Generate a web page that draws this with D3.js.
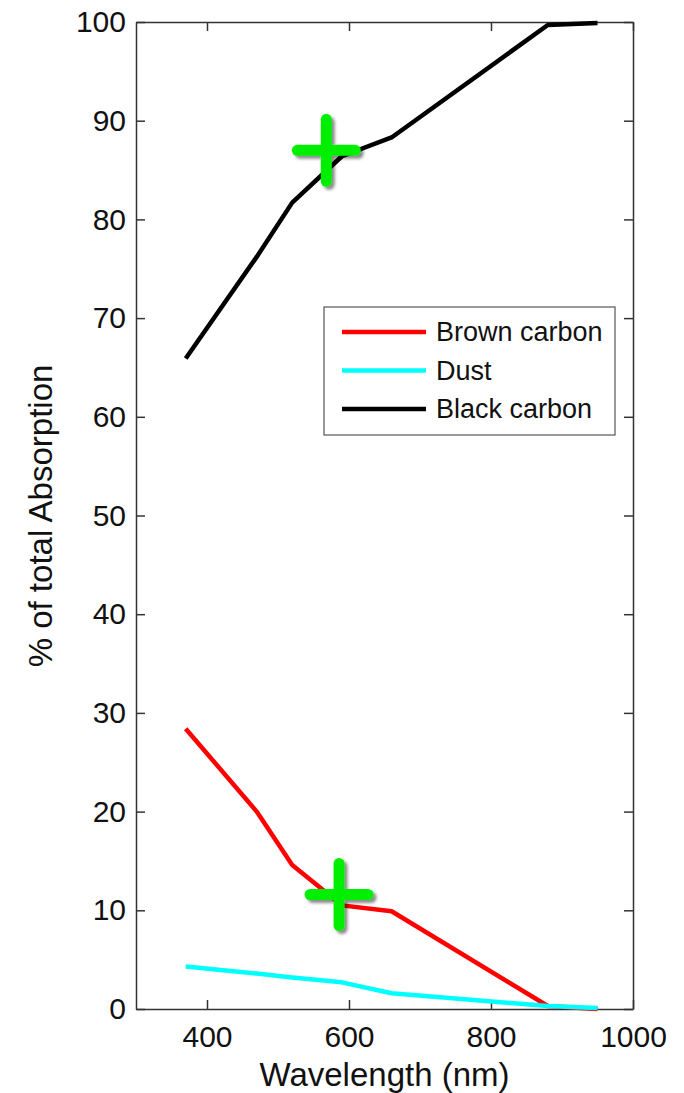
<!DOCTYPE html>
<meta charset="utf-8">
<style>
  body { margin: 0; background: #fff; }
  svg { display: block; }
  text { font-family: "Liberation Sans", Arial, sans-serif; fill: #111; }
  .axis path, .axis line { stroke: #333; stroke-width: 1.5px; }
</style>
<body>
<script src="https://d3js.org/d3.v7.min.js"></script>
<script>
// aethalometer wavelengths (nm)
var wavelengths = [370, 470, 520, 590, 660, 880, 950];

// % of total absorption for each species
var brownCarbon = [28.4, 20.0, 14.6, 10.5, 9.9, 0.3, 0.0];
var dust        = [4.3, 3.6, 3.2, 2.7, 1.6, 0.3, 0.1];
var blackCarbon = [65.9, 76.2, 81.7, 86.4, 88.3, 99.7, 99.9];

var seriesNames  = ["Brown carbon", "Dust", "Black carbon"];
var seriesColors = ["#ff0000", "#00ffff", "#000000"];

// green "+" annotations
var markWl  = [568, 586];
var markVal = [87.0, 11.6];

var xTicks = [400, 600, 800, 1000];
var yTicks = [0, 10, 20, 30, 40, 50, 60, 70, 80, 90, 100];

var margin = {top: 22, right: 51, bottom: 84, left: 136},
    width  = 684 - margin.left - margin.right,
    height = 1093 - margin.top - margin.bottom;

var svg = d3.select("body").append("svg")
  .attr("width", 684)
  .attr("height", 1093);

var defs = svg.append("defs");
var f = defs.append("filter").attr("id", "shadow")
  .attr("x", "-30%").attr("y", "-30%").attr("width", "160%").attr("height", "160%");
f.append("feDropShadow")
  .attr("dx", 3).attr("dy", 3).attr("stdDeviation", 1.6)
  .attr("flood-color", "#000").attr("flood-opacity", 0.45);

var chart = svg.append("g")
  .attr("transform", "translate(" + margin.left + "," + margin.top + ")");

var x = d3.scaleLinear().domain([300, 1000]).range([0, width]);
var y = d3.scaleLinear().domain([0, 100]).range([height, 0]);

// axes: ticks pointing inward, MATLAB style box
chart.append("g").attr("class", "axis")
  .attr("transform", "translate(0," + height + ")")
  .call(d3.axisBottom(x).tickValues(xTicks).tickFormat(d3.format("d"))
    .tickSize(-9).tickSizeOuter(0).tickPadding(17))
  .call(function(g){ g.selectAll("text").style("font-size", "30px"); });

chart.append("g").attr("class", "axis")
  .call(d3.axisTop(x).tickValues(xTicks).tickSize(-9).tickSizeOuter(0).tickFormat(""));

chart.append("g").attr("class", "axis")
  .call(d3.axisLeft(y).tickValues(yTicks).tickSize(-9).tickSizeOuter(0).tickPadding(10))
  .call(function(g){ g.selectAll("text").style("font-size", "30px"); });

chart.append("g").attr("class", "axis")
  .attr("transform", "translate(" + width + ",0)")
  .call(d3.axisRight(y).tickValues(yTicks).tickSize(-9).tickSizeOuter(0).tickFormat(""));

chart.selectAll(".axis text").attr("fill", "#111");

// lines
var series = [brownCarbon, dust, blackCarbon];
var line = d3.line()
  .x(function(d, i){ return x(wavelengths[i]); })
  .y(function(d){ return y(d); });

chart.selectAll(".series")
  .data(series)
  .enter().append("path")
    .attr("class", "series")
    .attr("d", line)
    .attr("fill", "none")
    .attr("stroke", function(d, i){ return seriesColors[i]; })
    .attr("stroke-width", 4.5)
    .attr("stroke-linejoin", "round");

// green plus markers
var marks = chart.selectAll(".mark")
  .data(markWl)
  .enter().append("g")
    .attr("class", "mark")
    .attr("filter", "url(#shadow)")
    .attr("transform", function(d, i){ return "translate(" + x(d) + "," + y(markVal[i]) + ")"; });
marks.append("line")
  .attr("x1", -29).attr("x2", 29).attr("y1", 0).attr("y2", 0);
marks.append("line")
  .attr("x1", 0).attr("x2", 0).attr("y1", -31).attr("y2", 31);
marks.selectAll("line")
  .attr("stroke", "#00ee00")
  .attr("stroke-width", 11)
  .attr("stroke-linecap", "round");

// legend
var legend = chart.append("g")
  .attr("transform", "translate(" + (324 - margin.left) + "," + (307 - margin.top) + ")");
legend.append("rect")
  .attr("width", 291).attr("height", 128)
  .attr("fill", "#fff")
  .attr("stroke", "#555")
  .attr("stroke-width", 1.2);
var items = legend.selectAll(".item")
  .data(seriesNames)
  .enter().append("g")
    .attr("class", "item")
    .attr("transform", function(d, i){ return "translate(0," + (25 + i * 38.5) + ")"; });
items.append("line")
  .attr("x1", 18).attr("x2", 102)
  .attr("stroke", function(d, i){ return seriesColors[i]; })
  .attr("stroke-width", 4.5);
items.append("text")
  .attr("x", 112)
  .attr("dy", "0.35em")
  .style("font-size", "27px")
  .text(function(d){ return d; });

// axis labels
svg.append("text")
  .attr("x", margin.left + x(650))
  .attr("y", 1086)
  .attr("text-anchor", "middle")
  .style("font-size", "33px")
  .text("Wavelength (nm)");

svg.append("text")
  .attr("transform", "translate(52,516) rotate(-90)")
  .attr("text-anchor", "middle")
  .style("font-size", "33px")
  .text("% of total Absorption");
</script>
</body>
